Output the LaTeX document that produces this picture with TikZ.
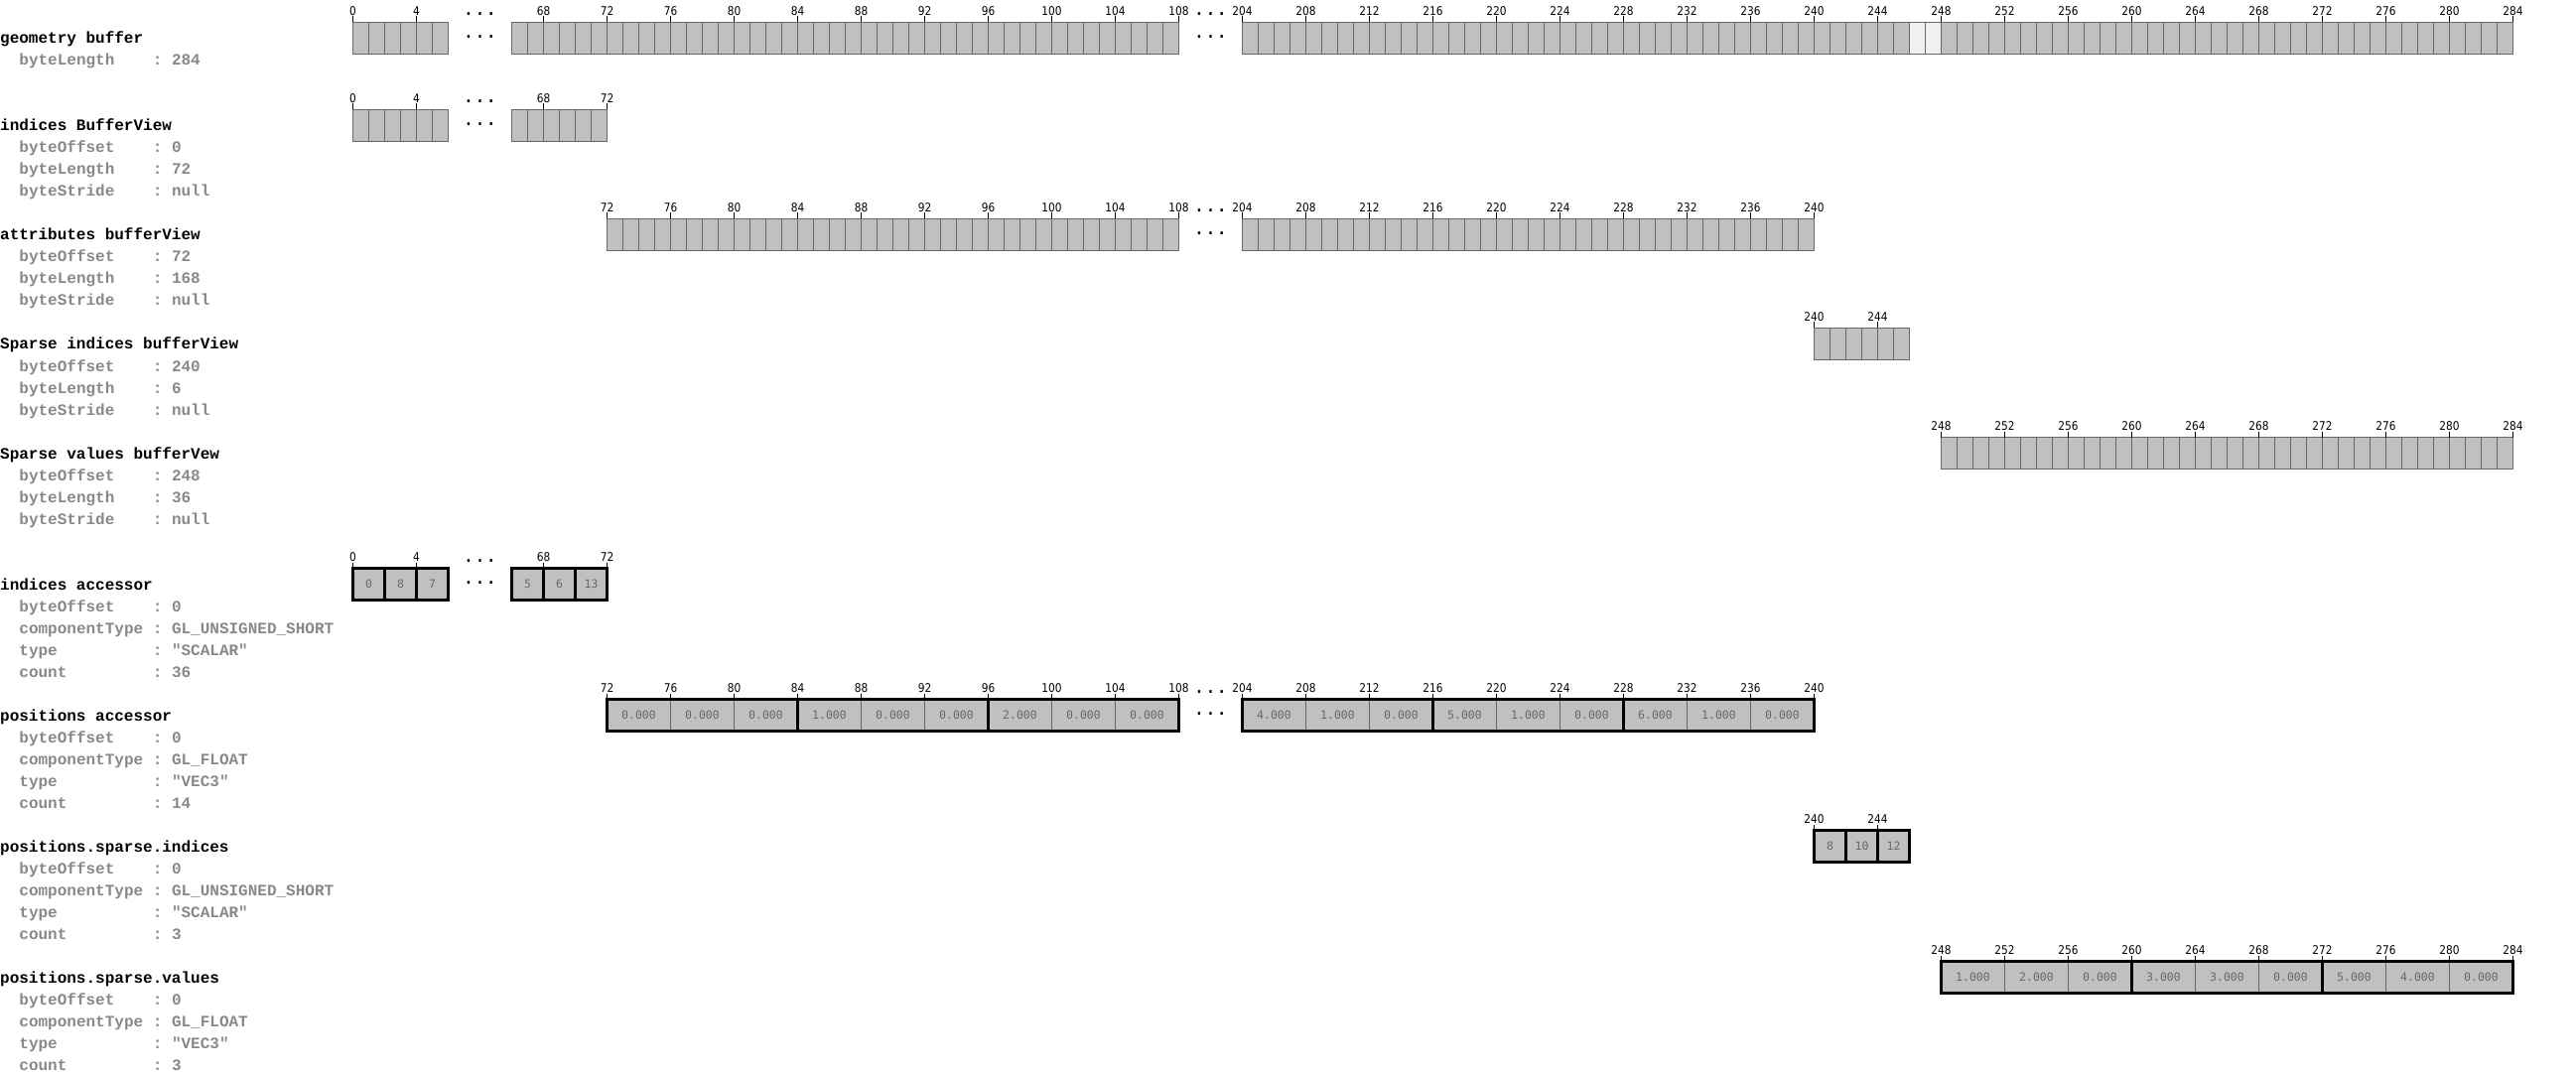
\documentclass[tikz,border=0pt]{standalone}
\usepackage{fontspec}
\setmonofont{Liberation Mono}
\newfontfamily\tickfont[FakeStretch=0.88]{DejaVu Sans}
\newfontfamily\valfont{DejaVu Sans Mono}
\usetikzlibrary{positioning}
\definecolor{cellfill}{RGB}{192,192,192}
\definecolor{padfill}{RGB}{240,240,240}
\definecolor{celledge}{RGB}{104,104,104}
\definecolor{propgray}{RGB}{136,136,136}
\definecolor{valgray}{RGB}{104,104,104}

% byte offset -> x, the skipped ranges 6..66 and 108..204 become small gaps
\pgfmathdeclarefunction{bx}{1}{\pgfmathparse{355.5+16*(#1-56*(#1>60)-92*(#1>150))}}

\tikzset{
  head/.style={anchor=base west,inner sep=0pt,font=\ttfamily\bfseries\fontsize{16}{16}\selectfont},
  prop/.style={head,text=propgray},
  tick/.style={anchor=south,inner sep=1pt,font=\tickfont\fontsize{12}{12}\selectfont},
  dots/.style={anchor=base,inner sep=0pt,font=\valfont\fontsize{19}{19}\selectfont},
  val/.style={inner sep=0pt,text=valgray,font=\valfont\fontsize{11.5}{12}\selectfont},
  thincell/.style={draw=celledge,line width=1pt},
  elem/.style={draw=black,line width=3pt},
}

\newcommand\bytecells[3]{% top, first byte, last byte
  \fill[cellfill] ({bx(#2)},#1) rectangle ({bx(#3)},#1+32);
  \foreach \b in {#2,...,#3}
    \draw[thincell] ({bx(\b)},#1) -- ({bx(\b)},#1+32);
  \draw[thincell] ({bx(#2)},#1) rectangle ({bx(#3)},#1+32);}
\newcommand\byteticks[3]{% row tag, top, offsets
  \foreach \t in {#3}{
    \draw ({bx(\t)},#2-6) -- ({bx(\t)},#2);
    \node[tick] (#1\t) at ({bx(\t)},#2-6) {\t};}}
\newcommand\gapdots[3]{% name, top, x of the gap
  \node[dots] (#1up) at (#3,#2-6.5) {...};
  \node[dots] (#1lo) at (#3,#2+16) {...};}
\newcommand\valcell[5]{% name, top, first byte, last byte, value
  \filldraw[fill=cellfill,thincell] ({bx(#3)},#2) rectangle ({bx(#4)},#2+32);
  \node[val] (#1) at ({(bx(#3)+bx(#4))/2},#2+16) {#5};}

\begin{document}
\begin{tikzpicture}[x=1pt,y=-1pt]
\useasboundingbox (0,0) rectangle (2595,1083);

% left column, one text line every 22px
\foreach \n/\nm/\txt in {0/geom/geometry buffer,4/iview/indices BufferView,
    9/aview/attributes bufferView,14/siview/Sparse indices bufferView,
    19/svview/Sparse values bufferVew,25/iacc/indices accessor,
    31/pacc/positions accessor,37/spidx/positions.sparse.indices,
    43/spval/positions.sparse.values}
  \node[head] (\nm) at (0,44+22*\n) {\txt};
\foreach \n/\k/\v in {1/byteLength/284,
    5/byteOffset/0,6/byteLength/72,7/byteStride/null,
    10/byteOffset/72,11/byteLength/168,12/byteStride/null,
    15/byteOffset/240,16/byteLength/6,17/byteStride/null,
    20/byteOffset/248,21/byteLength/36,22/byteStride/null,
    26/byteOffset/0,27/componentType/GL\_UNSIGNED\_SHORT,28/type/"SCALAR",29/count/36,
    32/byteOffset/0,33/componentType/GL\_FLOAT,34/type/"VEC3",35/count/14,
    38/byteOffset/0,39/componentType/GL\_UNSIGNED\_SHORT,40/type/"SCALAR",41/count/3,
    44/byteOffset/0,45/componentType/GL\_FLOAT,46/type/"VEC3",47/count/3}{
  \node[prop] (k\n) at (19.2,44+22*\n) {\k};
  \node[prop] (v\n) at (153.6,44+22*\n) {: \v};}

% geometry buffer
\bytecells{22.5}{0}{6}
\bytecells{22.5}{66}{108}
\bytecells{22.5}{204}{284}
\filldraw[fill=padfill,thincell] ({bx(246)},22.5) rectangle ({bx(248)},54.5);
\draw[thincell] ({bx(247)},22.5) -- ({bx(247)},54.5);
\byteticks{g}{22.5}{0,4}
\byteticks{g}{22.5}{68,72,...,108}
\byteticks{g}{22.5}{204,208,...,284}
\gapdots{gA}{22.5}{483.5}
\gapdots{gB}{22.5}{1219.5}

% indices bufferView
\bytecells{110.5}{0}{6}
\bytecells{110.5}{66}{72}
\byteticks{iv}{110.5}{0,4,68,72}
\gapdots{ivA}{110.5}{483.5}

% attributes bufferView
\bytecells{220.5}{72}{108}
\bytecells{220.5}{204}{240}
\byteticks{av}{220.5}{72,76,...,108}
\byteticks{av}{220.5}{204,208,...,240}
\gapdots{avB}{220.5}{1219.5}

% sparse bufferViews
\bytecells{330.5}{240}{246}
\byteticks{siv}{330.5}{240,244}
\bytecells{440.5}{248}{284}
\byteticks{svv}{440.5}{248,252,...,284}

% indices accessor
\foreach \s/\v in {0/0,2/8,4/7,66/5,68/6,70/13}{
  \valcell{ia\s}{572.5}{\s}{\s+2}{\v}
  \draw[elem] ({bx(\s)},572.5) rectangle ({bx(\s+2)},604.5);}
\byteticks{ia}{572.5}{0,4,68,72}
\gapdots{iaA}{572.5}{483.5}

% positions accessor
\foreach \s/\v in {72/0.000,76/0.000,80/0.000,84/1.000,88/0.000,92/0.000,
    96/2.000,100/0.000,104/0.000,204/4.000,208/1.000,212/0.000,
    216/5.000,220/1.000,224/0.000,228/6.000,232/1.000,236/0.000}
  \valcell{pa\s}{704.5}{\s}{\s+4}{\v}
\foreach \s in {72,84,96,204,216,228}
  \draw[elem] ({bx(\s)},704.5) rectangle ({bx(\s+12)},736.5);
\byteticks{pa}{704.5}{72,76,...,108}
\byteticks{pa}{704.5}{204,208,...,240}
\gapdots{paB}{704.5}{1219.5}

% positions.sparse.indices
\foreach \s/\v in {240/8,242/10,244/12}{
  \valcell{si\s}{836.5}{\s}{\s+2}{\v}
  \draw[elem] ({bx(\s)},836.5) rectangle ({bx(\s+2)},868.5);}
\byteticks{si}{836.5}{240,244}

% positions.sparse.values
\foreach \s/\v in {248/1.000,252/2.000,256/0.000,260/3.000,264/3.000,
    268/0.000,272/5.000,276/4.000,280/0.000}
  \valcell{sv\s}{968.5}{\s}{\s+4}{\v}
\foreach \s in {248,260,272}
  \draw[elem] ({bx(\s)},968.5) rectangle ({bx(\s+12)},1000.5);
\byteticks{sv}{968.5}{248,252,...,284}
\end{tikzpicture}
\end{document}
